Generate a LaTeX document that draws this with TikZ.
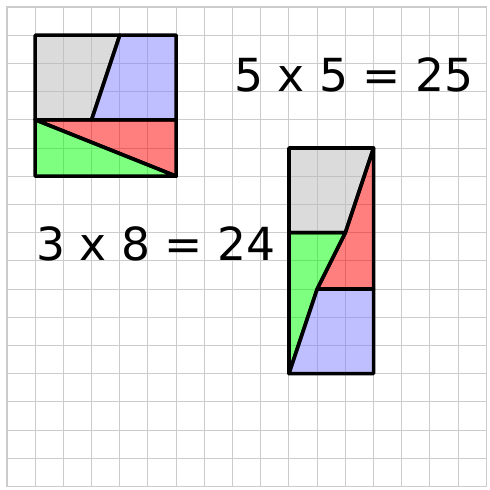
\documentclass[tikz,border=0pt]{standalone}
\usepackage{fontspec}
\setmainfont{DejaVu Sans}
\begin{document}
\begin{tikzpicture}[x=1cm,y=-1cm,
  piece/.style={draw=black,line width=3.6pt,line join=round,fill opacity=0.5},
  gpiece/.style={piece,fill=gray!55},
  bpiece/.style={piece,fill=blue!50},
  rpiece/.style={piece,fill=red},
  lpiece/.style={piece,fill=green},
  eqlabel/.style={anchor=base,inner sep=0pt,font=\fontsize{46}{50}\selectfont}]
\useasboundingbox (-0.248,-0.248) rectangle (17.128,17.128);
\fill[white] (-0.248,-0.248) rectangle (17.128,17.128);
\draw[line width=1pt,color=black!20] (0,0) grid (17,17);
\draw[line width=1.3pt,color=black!20] (0,0) rectangle (17,17);
% 5 x 5 square
\draw[gpiece] (1,1) -- (4,1) -- (3,4) -- (1,4) -- cycle;
\draw[bpiece] (4,1) -- (6,1) -- (6,4) -- (3,4) -- cycle;
\draw[rpiece] (1,4) -- (6,4) -- (6,6) -- cycle;
\draw[lpiece] (1,4) -- (6,6) -- (1,6) -- cycle;
% 3 x 8 rectangle
\draw[gpiece] (10,5) -- (13,5) -- (12,8) -- (10,8) -- cycle;
\draw[rpiece] (13,5) -- (13,10) -- (11,10) -- (12,8) -- cycle;
\draw[lpiece] (10,8) -- (12,8) -- (11,10) -- (10,13) -- cycle;
\draw[bpiece] (11,10) -- (13,10) -- (13,13) -- (10,13) -- cycle;
\node[eqlabel] (sq) at (12.3,3) {5 x 5 = 25};
\node[eqlabel] (re) at (5.28,9) {3 x 8 = 24};
\end{tikzpicture}
\end{document}
